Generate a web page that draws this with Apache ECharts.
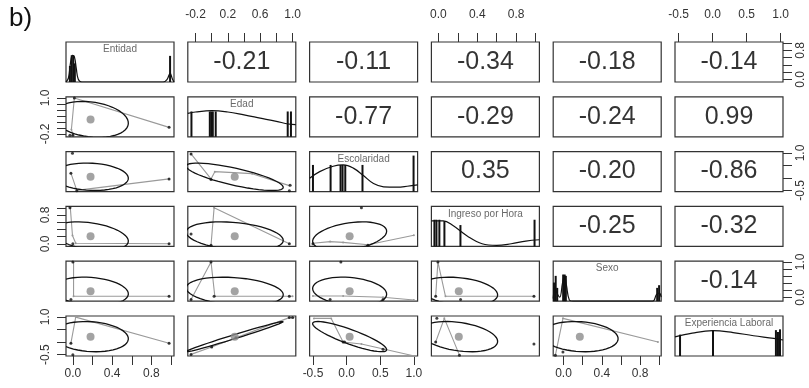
<!DOCTYPE html>
<html>
<head>
<meta charset="utf-8">
<script src="https://cdn.jsdelivr.net/npm/echarts@6/dist/echarts.min.js"></script>
<style>
  html, body { margin: 0; padding: 0; background: #fff; }
  #chart { width: 809px; height: 388px; }
</style>
</head>
<body>
<div id="chart"></div>
<script>
// variables of the pairs plot
const varNames = ['Entidad', 'Edad', 'Escolaridad', 'Ingreso por Hora', 'Sexo', 'Experiencia Laboral'];
const varMin = [-0.07, -0.295, -0.55, -0.072, -0.108, -0.554];
const varMax = [1.03, 1.04, 1.055, 1.04, 1.02, 1.034];

// tick marks and tick labels
const tickVals = [
  [0, 0.2, 0.4, 0.6, 0.8, 1.0],
  [-0.2, 0, 0.2, 0.4, 0.6, 0.8, 1.0],
  [-0.5, 0, 0.5, 1.0],
  [0, 0.2, 0.4, 0.6, 0.8, 1.0],
  [0, 0.2, 0.4, 0.6, 0.8, 1.0],
  [-0.5, 0, 0.5, 1.0]
];
const xLabelVals = [[0, 0.4, 0.8], [-0.2, 0.2, 0.6, 1.0], [-0.5, 0, 0.5, 1.0], [0, 0.4, 0.8], [0, 0.4, 0.8], [-0.5, 0, 0.5, 1.0]];
const yLabelVals = [[0, 0.8], [-0.2, 1.0], [-0.5, 1.0], [0, 0.8], [0, 1.0], [-0.5, 1.0]];

// correlations, upper triangle read row by row
const corrValues = [-0.21, -0.11, -0.34, -0.18, -0.14, -0.77, -0.29, -0.24, 0.99, 0.35, -0.20, -0.86, -0.25, -0.32, -0.14];

// means and ellipse size per variable
const varMeans = [0.18, 0.285, 0.045, 0.21, 0.17, 0.215];
const ellipseScale = [0.385, 0.6, 0.55, 0.40, 0.40, 0.6];

// histograms (x, height scaled to 1) and density curves, panel y goes 0..1.5
const histEntidad = [[-0.03, 0.6], [-0.012, 1.0], [0.004, 1.0], [0.02, 0.7], [0.99, 0.98]];
const histEdad = [[-0.25, 0.95], [-0.023, 0.95], [-0.004, 0.95], [0.014, 0.95], [0.05, 0.95], [0.94, 0.95], [0.98, 0.95]];
const histEscolaridad = [[-0.5, 1.0], [-0.238, 1.0], [-0.09, 1.0], [-0.06, 1.0], [-0.02, 1.0], [0.236, 1.0], [0.995, 1.35]];
const histIngreso = [[-0.041, 1.0], [-0.02, 1.0], [0.01, 1.0], [0.062, 0.95], [0.227, 0.8], [0.99, 1.0]];
const histSexo = [[-0.1, 0.7], [-0.082, 0.95], [-0.066, 0.5], [-0.004, 1.0], [0.012, 1.0], [0.024, 0.95], [0.978, 0.5], [0.998, 0.6]];
const histExperiencia = [[-0.48, 0.8], [0.005, 0.97], [0.93, 0.97], [0.96, 0.9], [0.99, 1.0]];

const densEntidad = [[-0.07, 0], [-0.045, 0.15], [-0.025, 0.7], [-0.005, 1.0], [0.015, 0.95], [0.035, 0.5], [0.055, 0.1], [0.09, 0], [0.92, 0], [0.96, 0.1], [0.99, 0.32], [1.015, 0.1], [1.03, 0]];
const densEdad = [[-0.295, 0.88], [-0.2, 0.93], [0.0, 0.98], [0.2, 0.93], [0.4, 0.82], [0.6, 0.7], [0.8, 0.58], [0.95, 0.48], [1.04, 0.46]];
const densEscolaridad = [[-0.55, 0.5], [-0.4, 0.75], [-0.2, 0.95], [-0.05, 1.0], [0.1, 0.88], [0.25, 0.6], [0.4, 0.3], [0.55, 0.18], [0.75, 0.17], [0.9, 0.2], [1.055, 0.25]];
const densIngreso = [[-0.072, 0.96], [0.05, 0.96], [0.15, 0.78], [0.3, 0.38], [0.45, 0.1], [0.6, 0.04], [0.75, 0.1], [0.9, 0.2], [1.04, 0.25]];
const densSexo = [[-0.108, 0.1], [-0.09, 0.55], [-0.075, 0.35], [-0.04, 0.15], [-0.01, 0.7], [0.01, 0.95], [0.03, 0.6], [0.06, 0.05], [0.1, 0], [0.93, 0], [0.97, 0.25], [1.0, 0.3], [1.02, 0.15]];
const densExperiencia = [[-0.554, 0.72], [-0.3, 0.86], [0.0, 0.95], [0.3, 0.88], [0.6, 0.76], [0.9, 0.66], [1.034, 0.6]];

const histList = [histEntidad, histEdad, histEscolaridad, histIngreso, histSexo, histExperiencia];
const densList = [densEntidad, densEdad, densEscolaridad, densIngreso, densSexo, densExperiencia];

// lower panels: smoother path (grey) and single points (black), [x, y]
const smooth21 = [[0.0, -0.24], [-0.015, -0.05], [0.015, 1.0], [0.98, 0.02]];
const points21 = [[0.015, 1.0], [-0.03, -0.24], [0.0, -0.24], [0.98, 0.02]];
const smooth31 = [[-0.02, 0.19], [0.04, -0.5], [0.98, -0.04]];
const points31 = [[-0.004, 0.99], [0.04, -0.52], [0.98, -0.04], [-0.02, 0.19]];
const smooth41 = [[-0.026, 1.0], [-0.004, 0.23], [0.029, 0.017], [0.98, 0.0]];
const points41 = [[-0.03, 1.0], [0.0, 0.0], [0.98, 0.0]];
const smooth51 = [[0.007, 1.0], [0.007, 0.03], [0.98, 0.03]];
const points51 = [[0.0, 1.0], [-0.02, -0.06], [0.98, 0.03]];
const smooth61 = [[-0.02, -0.046], [0.029, 0.99], [0.98, -0.046]];
const points61 = [[-0.02, -0.046], [0.0, -0.5], [0.98, -0.046]];
const smooth32 = [[-0.255, 0.96], [-0.008, -0.04], [0.039, 0.25], [0.5, 0.17], [0.96, -0.31]];
const points32 = [[-0.255, 0.96], [-0.008, -0.06], [0.96, -0.52], [0.97, -0.3]];
const smooth42 = [[-0.008, -0.04], [0.03, 1.0], [0.96, 0.0]];
const points42 = [[-0.255, 0.27], [-0.008, -0.04], [0.96, 0.0]];
const smooth52 = [[-0.255, -0.06], [-0.008, 1.0], [0.039, 0.03], [0.96, 0.03], [1.0, 0.03]];
const points52 = [[-0.008, 1.0], [0.03, 0.03], [0.96, 0.03], [-0.255, -0.06]];
const smooth62 = [[-0.255, -0.49], [0.0, -0.2], [0.3, 0.17], [0.96, 0.97], [1.013, 0.97]];
const points62 = [[-0.255, -0.49], [0.0, -0.2], [0.3, 0.17], [0.96, 0.97], [1.0, 0.97]];
const smooth43 = [[-0.5, 0.017], [-0.245, 0.061], [-0.052, 0.039], [0.317, -0.027], [1.0, 0.239]];
const points43 = [[0.22, 1.0], [0.317, -0.04], [-0.5, 0.0]];
const smooth53 = [[-0.5, 0.039], [-0.052, 0.039], [0.541, 0.005], [1.0, -0.074]];
const points53 = [[-0.085, 1.0], [-0.245, -0.06], [0.541, -0.06]];
const smooth63 = [[-0.486, 0.939], [-0.229, 0.939], [-0.052, 0.002], [0.22, -0.078], [1.007, -0.554]];
const points63 = [[-0.052, 0.0], [-0.03, 0.0], [0.541, -0.284]];
const smooth54 = [[-0.028, 0.03], [-0.005, 1.0], [0.073, 0.03], [0.984, 0.03]];
const points54 = [[-0.005, 1.0], [0.228, -0.063], [0.984, 0.03], [-0.028, 0.03]];
const smooth64 = [[-0.028, 0.002], [0.061, 0.94], [0.217, -0.52]];
const points64 = [[-0.016, 0.94], [0.984, -0.078], [0.217, -0.52], [-0.028, 0.002]];
const smooth65 = [[-0.085, -0.52], [-0.006, 0.94], [0.986, 0.0]];
const points65 = [[-0.006, -0.395], [-0.085, -0.52]];

const lowerPanels = [
  [1, 0, smooth21, points21], [2, 0, smooth31, points31], [3, 0, smooth41, points41],
  [4, 0, smooth51, points51], [5, 0, smooth61, points61], [2, 1, smooth32, points32],
  [3, 1, smooth42, points42], [4, 1, smooth52, points52], [5, 1, smooth62, points62],
  [3, 2, smooth43, points43], [4, 2, smooth53, points53], [5, 2, smooth63, points63],
  [4, 3, smooth54, points54], [5, 3, smooth64, points64], [5, 4, smooth65, points65]
];

const FONT = 'Liberation Sans, Arial, sans-serif';
const colLeft = [66, 187.8, 309.6, 431.4, 553.2, 675];
const rowTop = [42, 96.8, 151.6, 206.4, 261.2, 316];
const PW = 108, PH = 40;

// correlation matrix from the upper triangle
const corr = [];
for (let i = 0; i < 6; i++) corr.push([1, 1, 1, 1, 1, 1]);
let k = 0;
for (let i = 0; i < 6; i++) {
  for (let j = i + 1; j < 6; j++) {
    corr[i][j] = corrValues[k];
    corr[j][i] = corrValues[k];
    k++;
  }
}

function axisFor(g, v, dim, side) {
  const ax = {
    type: 'value', gridIndex: g, min: varMin[v], max: varMax[v],
    splitLine: { show: false },
    axisLine: { show: false, onZero: false }
  };
  if (!side) {
    ax.axisTick = { show: false };
    ax.axisLabel = { show: false };
    return ax;
  }
  ax.position = side;
  ax.axisTick = { show: true, length: 9, lineStyle: { color: '#333', width: 1 }, customValues: tickVals[v] };
  ax.axisLabel = {
    show: true,
    customValues: dim === 'x' ? xLabelVals[v] : yLabelVals[v],
    formatter: (val) => Number(val).toFixed(1),
    fontSize: 12,
    color: '#333',
    fontFamily: FONT,
    margin: { top: 21, bottom: 12, left: 14, right: 12 }[side],
    rotate: dim === 'y' ? 90 : 0
  };
  return ax;
}

// correlation ellipse as in psych::draw.ellipse
function renderEllipse(params, api) {
  const mx = api.value(0), my = api.value(1), sx = api.value(2), sy = api.value(3), r = api.value(4);
  const th = (r < 0 ? -1 : 1) / Math.SQRT2;
  const a = Math.sqrt(1 + r) * th, b = Math.sqrt(1 - r) * th;
  const pts = [];
  for (let n = 0; n <= 51; n++) {
    const t = n * 2 * Math.PI / 51;
    const c = Math.cos(t), s = Math.sin(t);
    pts.push(api.coord([mx + (c * a - s * b) * sx, my + (c * a + s * b) * sy]));
  }
  return {
    type: 'polyline',
    shape: { points: pts },
    style: { stroke: '#111', lineWidth: 1.3, fill: null }
  };
}

const grids = [], xAxes = [], yAxes = [], series = [];

for (let i = 0; i < 6; i++) {
  for (let j = 0; j < 6; j++) {
    const g = i * 6 + j;
    grids.push({
      left: colLeft[j], top: rowTop[i], width: PW, height: PH,
      show: true, borderColor: '#333', borderWidth: 1.2, backgroundColor: 'transparent'
    });
    const xSide = (i === 0 && j % 2 === 1) ? 'top' : (i === 5 && j % 2 === 0) ? 'bottom' : null;
    const ySide = (j === 0 && i % 2 === 1) ? 'left' : (j === 5 && i % 2 === 0) ? 'right' : null;
    xAxes.push(axisFor(g, j, 'x', xSide));
    if (i === j) {
      yAxes.push({ type: 'value', gridIndex: g, min: 0, max: 1.5, show: false, splitLine: { show: false } });
    } else {
      yAxes.push(axisFor(g, i, 'y', ySide));
    }

    if (i === j) {
      series.push({
        type: 'bar', xAxisIndex: g, yAxisIndex: g, data: histList[i],
        barWidth: 2, itemStyle: { color: '#111' }, z: 2
      });
      series.push({
        type: 'line', xAxisIndex: g, yAxisIndex: g, data: densList[i],
        smooth: 0.4, symbol: 'none', lineStyle: { color: '#111', width: 1.2 }, z: 3
      });
      series.push({
        type: 'scatter', xAxisIndex: g, yAxisIndex: g,
        data: [[(varMin[i] + varMax[i]) / 2, 1.22]],
        symbolSize: 1, itemStyle: { color: 'rgba(0,0,0,0)' },
        label: { show: true, position: 'inside', formatter: varNames[i], fontSize: 10, color: '#444', fontFamily: FONT },
        z: 4
      });
    } else if (j > i) {
      series.push({
        type: 'scatter', xAxisIndex: g, yAxisIndex: g,
        data: [[(varMin[j] + varMax[j]) / 2, (varMin[i] + varMax[i]) / 2]],
        symbolSize: 1, itemStyle: { color: 'rgba(0,0,0,0)' },
        label: { show: true, position: 'inside', formatter: corr[i][j].toFixed(2), fontSize: 25, color: '#000', fontFamily: FONT }
      });
    }
  }
}

lowerPanels.forEach(([i, j, smooth, pts]) => {
  const g = i * 6 + j;
  series.push({
    type: 'line', xAxisIndex: g, yAxisIndex: g, data: smooth,
    symbol: 'circle', symbolSize: 2, itemStyle: { color: '#999' },
    lineStyle: { color: '#9a9a9a', width: 1.1 }, z: 2
  });
  series.push({
    type: 'custom', xAxisIndex: g, yAxisIndex: g, clip: true,
    renderItem: renderEllipse,
    data: [[varMeans[j], varMeans[i], ellipseScale[j], ellipseScale[i], corr[i][j]]], z: 3
  });
  series.push({
    type: 'scatter', xAxisIndex: g, yAxisIndex: g, data: pts,
    symbolSize: 3, itemStyle: { color: '#111' }, z: 4
  });
  series.push({
    type: 'scatter', xAxisIndex: g, yAxisIndex: g, data: [[varMeans[j], varMeans[i]]],
    symbolSize: 8, itemStyle: { color: '#8c8c8c' }, z: 5
  });
});

const chart = echarts.init(document.getElementById('chart'), null, { renderer: 'canvas' });
chart.setOption({
  animation: false,
  backgroundColor: '#fff',
  graphic: [{
    type: 'text', left: 9, top: 6,
    style: { text: 'b)', fontSize: 26, fill: '#111', fontFamily: FONT }
  }],
  grid: grids,
  xAxis: xAxes,
  yAxis: yAxes,
  series: series
});
</script>
</body>
</html>
